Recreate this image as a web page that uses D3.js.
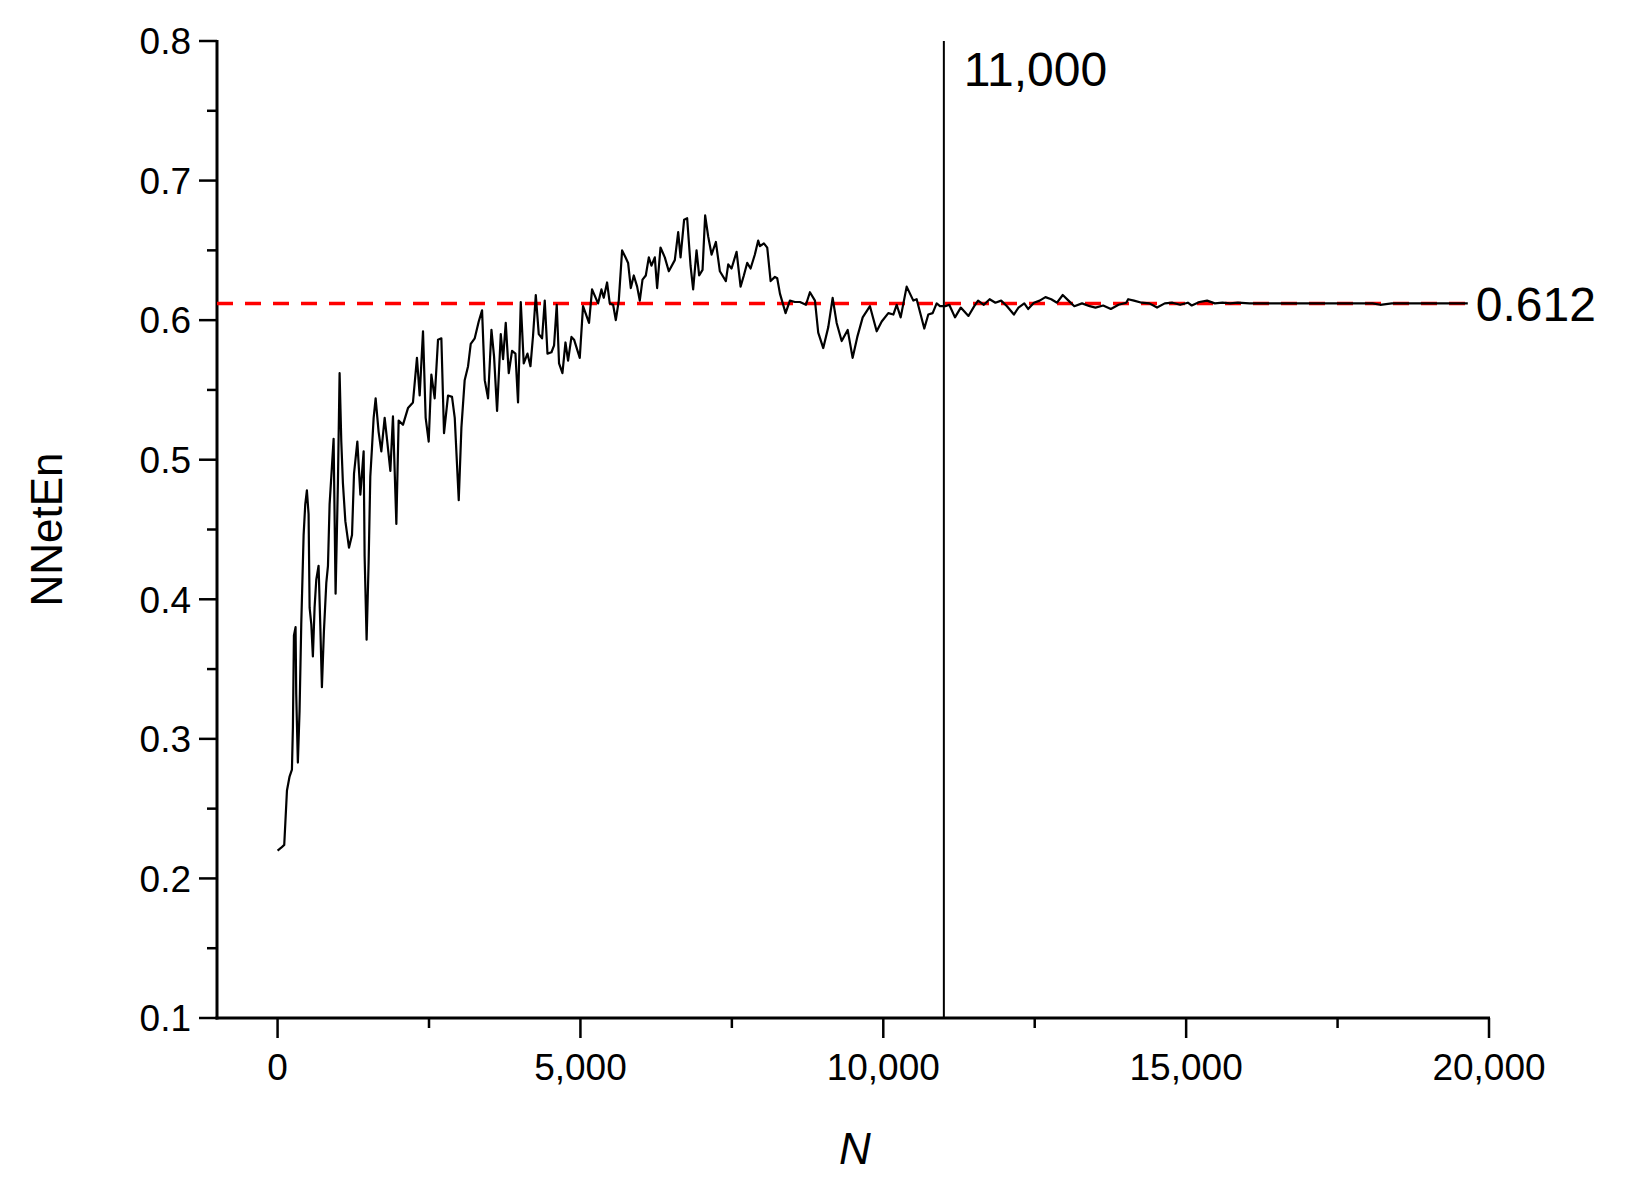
<!DOCTYPE html>
<html><head><meta charset="utf-8">
<script src="https://cdn.jsdelivr.net/npm/d3@7"></script>
<style>body{margin:0;background:#fff}text{font-family:"Liberation Sans",Arial,sans-serif}</style>
</head><body><svg id="c" width="1640" height="1186"></svg>
<script>
const nValues=[0,60,110,155,198,237,253,270,297,308,335,363,391,430,457,484,512,529,557,583,611,639,677,705,732,765,805,832,859,897,925,958,996,1024,1052,1079,1119,1179,1229,1262,1317,1367,1421,1437,1470,1503,1531,1558,1586,1619,1668,1713,1768,1806,1862,1905,1961,1999,2070,2153,2235,2301,2346,2401,2445,2495,2539,2594,2649,2704,2748,2814,2880,2925,2991,3035,3089,3145,3189,3255,3321,3376,3420,3475,3531,3574,3624,3685,3723,3767,3817,3871,3927,3970,4015,4064,4126,4175,4218,4263,4312,4367,4411,4456,4522,4565,4609,4647,4703,4753,4796,4852,4895,4989,5043,5142,5192,5291,5347,5385,5440,5484,5540,5584,5633,5688,5744,5787,5832,5881,5936,5980,6025,6079,6129,6173,6228,6266,6322,6393,6459,6558,6614,6653,6712,6762,6818,6861,6917,6960,7016,7059,7109,7165,7236,7302,7401,7440,7495,7578,7644,7698,7753,7809,7880,7935,7963,8029,8084,8140,8211,8249,8294,8387,8458,8541,8624,8723,8789,8872,8926,9009,9092,9164,9230,9313,9412,9494,9571,9660,9780,9891,9974,10083,10166,10221,10287,10386,10496,10551,10677,10743,10815,10881,10936,11025,11089,11184,11279,11406,11502,11565,11660,11756,11851,11946,12042,12156,12232,12328,12391,12487,12582,12677,12773,12868,12963,13058,13154,13281,13408,13503,13630,13757,13884,14011,14043,14139,14266,14393,14520,14647,14774,14901,15028,15092,15219,15346,15473,15600,15727,15854,16045,16235,16490,16870,17125,17316,17506,17760,18078,18205,18396,19031,19650];
const nnetenValues=[0.220,0.222,0.224,0.263,0.273,0.278,0.308,0.374,0.380,0.332,0.283,0.320,0.382,0.446,0.468,0.478,0.461,0.394,0.382,0.359,0.394,0.414,0.424,0.382,0.337,0.377,0.412,0.424,0.468,0.495,0.515,0.404,0.483,0.562,0.513,0.483,0.456,0.437,0.446,0.490,0.513,0.475,0.506,0.431,0.371,0.426,0.488,0.508,0.530,0.544,0.520,0.506,0.530,0.515,0.492,0.531,0.454,0.528,0.525,0.537,0.541,0.573,0.546,0.592,0.530,0.513,0.561,0.544,0.586,0.587,0.519,0.546,0.545,0.530,0.471,0.523,0.557,0.567,0.583,0.587,0.599,0.607,0.557,0.544,0.593,0.574,0.535,0.590,0.572,0.598,0.562,0.578,0.576,0.541,0.613,0.569,0.576,0.567,0.589,0.618,0.590,0.587,0.614,0.576,0.577,0.582,0.611,0.569,0.562,0.584,0.571,0.588,0.586,0.573,0.610,0.598,0.622,0.612,0.622,0.616,0.627,0.612,0.611,0.600,0.614,0.650,0.645,0.641,0.623,0.632,0.624,0.614,0.629,0.632,0.645,0.639,0.645,0.623,0.652,0.645,0.635,0.643,0.663,0.645,0.672,0.673,0.639,0.622,0.650,0.632,0.636,0.675,0.660,0.647,0.656,0.635,0.628,0.640,0.637,0.649,0.624,0.632,0.641,0.637,0.647,0.657,0.653,0.655,0.652,0.628,0.631,0.630,0.619,0.605,0.614,0.613,0.613,0.611,0.620,0.614,0.591,0.580,0.595,0.616,0.598,0.585,0.593,0.573,0.588,0.602,0.610,0.592,0.599,0.605,0.604,0.611,0.602,0.624,0.614,0.615,0.594,0.604,0.605,0.612,0.610,0.610,0.611,0.602,0.609,0.603,0.610,0.614,0.611,0.615,0.6125,0.614,0.610,0.604,0.609,0.612,0.608,0.6125,0.614,0.6165,0.615,0.6125,0.618,0.614,0.610,0.612,0.610,0.609,0.6105,0.608,0.611,0.6125,0.615,0.614,0.6125,0.612,0.609,0.612,0.6125,0.611,0.6125,0.6105,0.613,0.614,0.612,0.6125,0.612,0.6125,0.612,0.612,0.612,0.612,0.612,0.612,0.612,0.612,0.612,0.611,0.612,0.612,0.612];
const xTicks=[0,5000,10000,15000,20000];
const yTicks=[0.1,0.2,0.3,0.4,0.5,0.6,0.7,0.8];
const refValue=0.612, refN=11000, lineEnd=19650;

const svg=d3.select("#c");
const L=217,T=41,B=1018;
const x=d3.scaleLinear().domain([-1000,20000]).range([L,1489]);
const y=d3.scaleLinear().domain([0.1,0.8]).range([B,T]);
const data=nValues.map((n,i)=>[n,nnetenValues[i]]);

const ya=svg.append("g").attr("transform",`translate(${L},0)`);
ya.append("line").attr("y1",y(0.8)-1).attr("y2",y(0.1)+1.5).attr("stroke","#000").attr("stroke-width",3);
d3.range(0.1,0.8001,0.05).forEach(v=>{
  const major=Math.abs(Math.round(v*10)-v*10)<1e-6;
  ya.append("line").attr("x1",major?-18:-10).attr("x2",0).attr("y1",y(v)).attr("y2",y(v)).attr("stroke","#000").attr("stroke-width",2.5);
});
yTicks.forEach(v=>ya.append("text").attr("x",-26).attr("y",y(v)).attr("dy","0.36em").attr("text-anchor","end").attr("font-size",37).text(d3.format(".1f")(v)));

const xa=svg.append("g").attr("transform",`translate(0,${B})`);
xa.append("line").attr("x1",L-1.5).attr("x2",x(20000)+1).attr("stroke","#000").attr("stroke-width",3);
d3.range(0,20001,2500).forEach(v=>{
  const major=v%5000===0;
  xa.append("line").attr("x1",x(v)).attr("x2",x(v)).attr("y1",0).attr("y2",major?20:10).attr("stroke","#000").attr("stroke-width",2.5);
});
xTicks.forEach(v=>xa.append("text").attr("x",x(v)).attr("y",62).attr("text-anchor","middle").attr("font-size",37).text(d3.format(",")(v)));

svg.append("text").attr("x",855).attr("y",1164).attr("text-anchor","middle").attr("font-size",44).attr("font-style","italic").text("N");
svg.append("text").attr("transform",`translate(62,${(T+B)/2}) rotate(-90)`).attr("text-anchor","middle").attr("font-size",44).text("NNetEn");

svg.append("line").attr("x1",L).attr("x2",x(lineEnd)).attr("y1",y(refValue)).attr("y2",y(refValue)).attr("stroke","#ff0000").attr("stroke-width",3.5).attr("stroke-dasharray","16,12");
svg.append("line").attr("x1",x(refN)).attr("x2",x(refN)).attr("y1",T).attr("y2",B).attr("stroke","#000").attr("stroke-width",2);

svg.append("path").datum(data).attr("fill","none").attr("stroke","#000").attr("stroke-width",2.2).attr("stroke-linejoin","round")
  .attr("d",d3.line().x(d=>x(d[0])).y(d=>y(d[1])));

svg.append("text").attr("x",x(refN)+20).attr("y",86).attr("font-size",48).text(d3.format(",")(refN));
svg.append("text").attr("x",x(lineEnd)+8).attr("y",y(refValue)).attr("dy","0.36em").attr("font-size",48).text(refValue.toFixed(3));
</script></body></html>
